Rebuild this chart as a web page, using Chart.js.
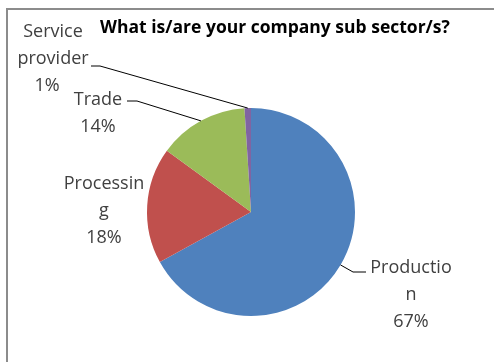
<!DOCTYPE html>
<html lang="en">
<head>
    <meta charset="UTF-8">
    <script src="https://cdn.jsdelivr.net/npm/chart.js"></script>
    <title>Company sub sector</title>
    <style>
        html, body { margin: 0; padding: 0; background: #fff; }
        canvas { display: block; }
    </style>
</head>
<body>
    <canvas id="pieSector" width="494" height="362"></canvas>

    <script>
        // dados
        const sectorLabels = ['Production', 'Processing', 'Trade', 'Service provider'];
        const sectorValues = [67, 18, 14, 1];
        const sectorColors = ['#4F81BD', '#C0504D', '#9BBB59', '#8064A2'];

        // texto quebrado como no Excel + onde fica cada rótulo
        const labelLines = [['Productio', 'n'], ['Processin', 'g'], ['Trade'], ['Service', 'provider']];
        const labelBoxes = [
            { x: 411, y: 268, elbow: [353, 272], end: [366, 272] },
            { x: 104, y: 184, elbow: null, end: null },
            { x: 98, y: 100, elbow: [137, 101], end: [127, 101] },
            { x: 53, y: 32, elbow: [100, 66], end: [91, 66] }
        ];

        const lineGap = 27;

        const decor = {
            id: 'decor',
            beforeDraw(chart) {
                const c = chart.ctx;
                c.save();
                // moldura cinza (so topo e esquerda aparecem)
                c.fillStyle = '#8c8c8c';
                c.fillRect(6, 8, 494, 2);
                c.fillRect(6, 8, 2, 362);
                c.restore();
            },
            afterDraw(chart) {
                const c = chart.ctx;
                const meta = chart.getDatasetMeta(0);
                c.save();
                c.fillStyle = '#000';
                c.font = 'bold 17.5px "Open Sans"';
                c.textAlign = 'center';
                c.textBaseline = 'middle';
                c.fillText('What is/are your company sub sector/s?', 275, 28);

                c.font = '18px "Open Sans"';
                c.fillStyle = '#404040';
                meta.data.forEach((arc, i) => {
                    const box = labelBoxes[i];
                    const lines = labelLines[i].concat([sectorValues[i] + '%']);
                    lines.forEach((t, k) => {
                        let x = box.x;
                        if (i === 3 && k === 2) x = 47;
                        c.fillText(t, x, box.y + k * lineGap);
                    });
                    if (box.elbow) {
                        const mid = (arc.startAngle + arc.endAngle) / 2;
                        const ax = arc.x + Math.cos(mid) * arc.outerRadius;
                        const ay = arc.y + Math.sin(mid) * arc.outerRadius;
                        c.strokeStyle = '#000';
                        c.lineWidth = 1;
                        c.beginPath();
                        c.moveTo(ax, ay);
                        c.lineTo(box.elbow[0], box.elbow[1]);
                        c.lineTo(box.end[0], box.end[1]);
                        c.stroke();
                    }
                });
                c.restore();
            }
        };

        const ctxSector = document.getElementById('pieSector').getContext('2d');

        const configSector = {
            type: 'pie',
            data: {
                labels: sectorLabels,
                datasets: [{
                    data: sectorValues,
                    backgroundColor: sectorColors,
                    borderWidth: 0
                }]
            },
            options: {
                responsive: false,
                animation: false,
                devicePixelRatio: 1,
                layout: {
                    padding: { left: 147, right: 139, top: 107, bottom: 45 }
                },
                plugins: {
                    legend: { display: false },
                    tooltip: { enabled: false }
                }
            },
            plugins: [decor]
        };

        const pieSector = new Chart(ctxSector, configSector);
    </script>
</body>
</html>
